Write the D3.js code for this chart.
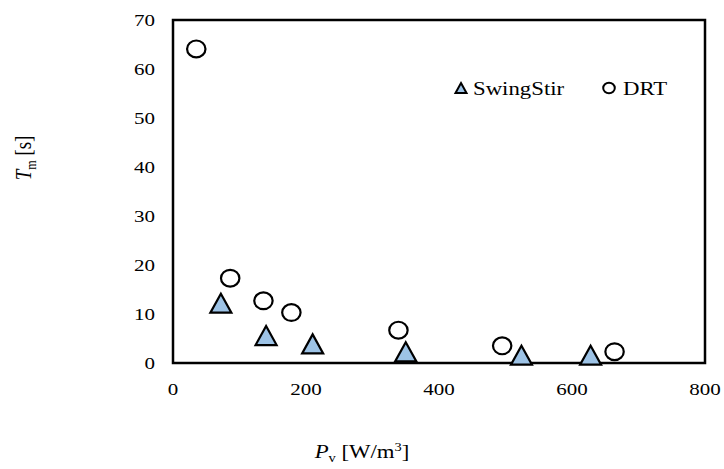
<!DOCTYPE html>
<html>
<head>
<meta charset="utf-8">
<script src="https://cdn.jsdelivr.net/npm/d3@7"></script>
<style>
  body { margin: 0; background: #fff; }
  svg text { font-family: "Liberation Serif", "Times New Roman", serif; fill: #000; }
</style>
</head>
<body>
<script>
// data
var swingX = [72, 140, 210, 350, 524, 628];
var swingY = [12.2, 5.6, 3.9, 2.3, 1.6, 1.6];
var drtX = [35, 86, 136, 178, 339, 495, 664];
var drtY = [64.1, 17.3, 12.7, 10.3, 6.7, 3.5, 2.3];
var xTicks = [0, 200, 400, 600, 800];
var yTicks = [0, 10, 20, 30, 40, 50, 60, 70];

var width = 724,
    height = 469,
    plotL = 173, plotR = 705, plotT = 20, plotB = 363;
var fontSize = 19;
var tickSize = 17.5;
var stretch = 1.2; // the picture is wider than tall, text is too

var svg = d3.select("body")
  .append("svg")
    .attr("width", width)
    .attr("height", height);

var x = d3.scaleLinear().domain([0, 800]).range([plotL, plotR]);
var y = d3.scaleLinear().domain([0, 70]).range([plotB, plotT]);

// text placed at px,py and stretched sideways
function label(px, py, anchor, size) {
  return svg.append("text")
    .attr("transform", "translate(" + px + "," + py + ") scale(" + stretch + ",1)")
    .attr("text-anchor", anchor)
    .style("font-size", (size || fontSize) + "px");
}

// tick labels
yTicks.forEach(function(v) {
  label(plotL - 18, y(v), "end", tickSize).attr("dy", "0.35em").text(v);
});
xTicks.forEach(function(v) {
  label(x(v), 395, "middle", tickSize).text(v);
});

// plot frame
svg.append("rect")
  .attr("x", plotL)
  .attr("y", plotT)
  .attr("width", plotR - plotL)
  .attr("height", plotB - plotT)
  .attr("fill", "none")
  .attr("stroke", "#000")
  .attr("stroke-width", 2.5);

// triangle marker, bbox centred on the point
function tri(w, h) {
  return "M0," + (-h / 2) + "L" + (w / 2) + "," + (h / 2) + "L" + (-w / 2) + "," + (h / 2) + "Z";
}

var swing = swingX.map(function(v, i) { return {x: v, y: swingY[i]}; });
var drt = drtX.map(function(v, i) { return {x: v, y: drtY[i]}; });

svg.selectAll("ellipse.drt")
  .data(drt)
  .enter()
  .append("ellipse")
    .attr("class", "drt")
    .attr("cx", function(d) { return x(d.x); })
    .attr("cy", function(d) { return y(d.y); })
    .attr("rx", 9.2)
    .attr("ry", 8.4)
    .attr("fill", "#fff")
    .attr("stroke", "#000")
    .attr("stroke-width", 2.2);

svg.selectAll("path.swing")
  .data(swing)
  .enter()
  .append("path")
    .attr("class", "swing")
    .attr("d", tri(21, 19))
    .attr("transform", function(d) { return "translate(" + x(d.x) + "," + y(d.y) + ")"; })
    .attr("fill", "#9DC3E6")
    .attr("stroke", "#000")
    .attr("stroke-width", 2.2)
    .attr("stroke-linejoin", "miter");

// legend
svg.append("path")
  .attr("d", tri(11, 10))
  .attr("transform", "translate(461,88)")
  .attr("fill", "#9DC3E6")
  .attr("stroke", "#000")
  .attr("stroke-width", 2);
label(473, 88, "start").attr("dy", "0.35em").text("SwingStir");
svg.append("ellipse")
  .attr("cx", 609)
  .attr("cy", 88)
  .attr("rx", 5.8)
  .attr("ry", 5.3)
  .attr("fill", "#fff")
  .attr("stroke", "#000")
  .attr("stroke-width", 2);
label(623, 88, "start").attr("dy", "0.35em").text("DRT");

// axis titles
var xt = label(362, 458, "middle");
xt.append("tspan").style("font-style", "italic").text("P");
xt.append("tspan").attr("dy", 4).style("font-size", "12px").text("v");
xt.append("tspan").attr("dy", -4).text(" [W/m");
xt.append("tspan").attr("dy", -7).style("font-size", "12px").text("3");
xt.append("tspan").attr("dy", 7).text("]");

var yt = svg.append("text")
  .attr("transform", "translate(31,158) rotate(-90) scale(1," + stretch + ")")
  .attr("text-anchor", "middle")
  .style("font-size", fontSize + "px");
yt.append("tspan").style("font-style", "italic").text("T");
yt.append("tspan").attr("dy", 4).style("font-size", "12px").text("m");
yt.append("tspan").attr("dy", -4).text(" [s]");
</script>
</body>
</html>
